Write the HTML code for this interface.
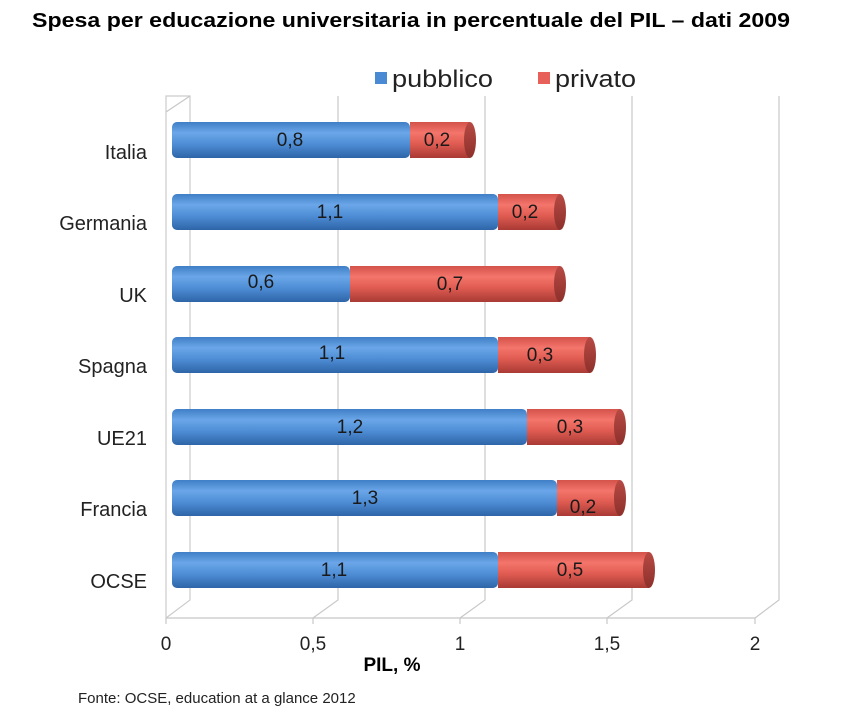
<!DOCTYPE html>
<html><head><style>body{margin:0;background:#fff;width:863px;height:716px;overflow:hidden}</style></head><body>
<svg width="863" height="716" xmlns="http://www.w3.org/2000/svg" font-family="Liberation Sans, sans-serif">
<defs>
<linearGradient id="b" x1="0" y1="0" x2="0" y2="1"><stop offset="0" stop-color="#3f7fc6"/><stop offset="0.3" stop-color="#6aa6e8"/><stop offset="0.6" stop-color="#4f8ed6"/><stop offset="1" stop-color="#2e65a8"/></linearGradient>
<linearGradient id="r" x1="0" y1="0" x2="0" y2="1"><stop offset="0" stop-color="#d4524a"/><stop offset="0.3" stop-color="#f4756b"/><stop offset="0.6" stop-color="#e05c52"/><stop offset="1" stop-color="#a83a34"/></linearGradient>
<linearGradient id="rc" x1="0" y1="0" x2="0" y2="1"><stop offset="0" stop-color="#b84a44"/><stop offset="1" stop-color="#8d302b"/></linearGradient>
</defs>
<text x="32" y="27" font-size="20" font-weight="bold" textLength="758" lengthAdjust="spacingAndGlyphs">Spesa per educazione universitaria in percentuale del PIL – dati 2009</text>
<rect x="375" y="72" width="12" height="12" fill="#4a8ad4"/><text x="392" y="87" font-size="24" fill="#222" textLength="101" lengthAdjust="spacingAndGlyphs">pubblico</text>
<rect x="538" y="72" width="12" height="12" fill="#e8605a"/><text x="555" y="87" font-size="24" fill="#222" textLength="81" lengthAdjust="spacingAndGlyphs">privato</text>
<g stroke="#c8c8c8" fill="none" stroke-width="1.2">
<path d="M190 96 L190 600 L166 618 L166 96 Z" stroke="#ccc"/>
<path d="M190 96 L166 112"/>
<path d="M338 96 L338 600 L313 618"/>
<path d="M485 96 L485 600 L460 618"/>
<path d="M632 96 L632 600 L607 618"/>
<path d="M779 96 L779 600 L755 618"/>
<path d="M166 618 L755 618"/>
<path d="M166 618 v6 M313 618 v6 M460 618 v6 M607 618 v6 M755 618 v6"/>
</g>
<g font-size="20" fill="#222" text-anchor="end">
<text x="147" y="159">Italia</text><text x="147" y="230">Germania</text><text x="147" y="302">UK</text><text x="147" y="373">Spagna</text><text x="147" y="445">UE21</text><text x="147" y="516">Francia</text><text x="147" y="588">OCSE</text>
</g>
<g font-size="19" fill="#222" text-anchor="middle">
<text x="166" y="650">0</text><text x="313" y="650">0,5</text><text x="460" y="650">1</text><text x="607" y="650">1,5</text><text x="755" y="650">2</text>
</g>
<text x="392" y="671" font-size="19" font-weight="bold" text-anchor="middle">PIL, %</text>
<text x="78" y="703" font-size="15" fill="#222">Fonte: OCSE, education at a glance 2012</text>
<g font-size="19" fill="#1a1a1a" text-anchor="middle">
<g transform="translate(0,122)"><rect x="172" width="238" height="36" rx="5" fill="url(#b)"/><rect x="410" width="60" height="36" fill="url(#r)"/><ellipse cx="470" cy="18" rx="6" ry="18" fill="url(#rc)"/><text x="290" y="24">0,8</text><text x="437" y="24">0,2</text></g>
<g transform="translate(0,194)"><rect x="172" width="326" height="36" rx="5" fill="url(#b)"/><rect x="498" width="62" height="36" fill="url(#r)"/><ellipse cx="560" cy="18" rx="6" ry="18" fill="url(#rc)"/><text x="330" y="24">1,1</text><text x="525" y="24">0,2</text></g>
<g transform="translate(0,266)"><rect x="172" width="178" height="36" rx="5" fill="url(#b)"/><rect x="350" width="210" height="36" fill="url(#r)"/><ellipse cx="560" cy="18" rx="6" ry="18" fill="url(#rc)"/><text x="261" y="22">0,6</text><text x="450" y="24">0,7</text></g>
<g transform="translate(0,337)"><rect x="172" width="326" height="36" rx="5" fill="url(#b)"/><rect x="498" width="92" height="36" fill="url(#r)"/><ellipse cx="590" cy="18" rx="6" ry="18" fill="url(#rc)"/><text x="332" y="22">1,1</text><text x="540" y="24">0,3</text></g>
<g transform="translate(0,409)"><rect x="172" width="355" height="36" rx="5" fill="url(#b)"/><rect x="527" width="93" height="36" fill="url(#r)"/><ellipse cx="620" cy="18" rx="6" ry="18" fill="url(#rc)"/><text x="350" y="24">1,2</text><text x="570" y="24">0,3</text></g>
<g transform="translate(0,480)"><rect x="172" width="385" height="36" rx="5" fill="url(#b)"/><rect x="557" width="63" height="36" fill="url(#r)"/><ellipse cx="620" cy="18" rx="6" ry="18" fill="url(#rc)"/><text x="365" y="24">1,3</text><text x="583" y="33">0,2</text></g>
<g transform="translate(0,552)"><rect x="172" width="326" height="36" rx="5" fill="url(#b)"/><rect x="498" width="151" height="36" fill="url(#r)"/><ellipse cx="649" cy="18" rx="6" ry="18" fill="url(#rc)"/><text x="334" y="24">1,1</text><text x="570" y="24">0,5</text></g>
</g>
</svg>
</body></html>
